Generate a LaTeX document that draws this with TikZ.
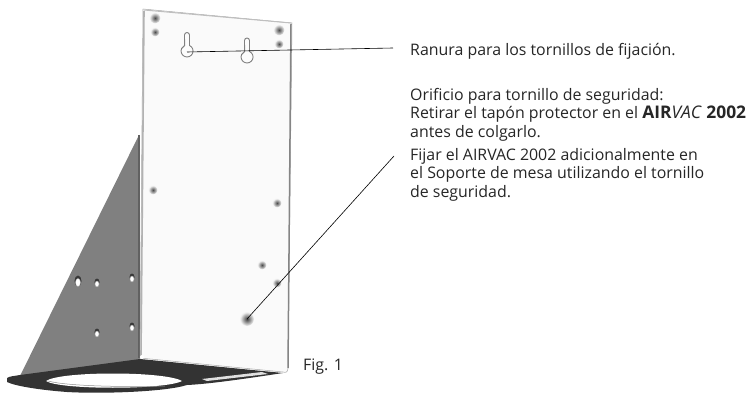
\documentclass[tikz,border=0pt]{standalone}
\usepackage{fontspec}
\usetikzlibrary{shapes.geometric}
\setmainfont{Open Sans}
\begin{document}
\begin{tikzpicture}[x=1pt,y=-1pt,
  lbl/.style={anchor=base west,inner sep=0pt,font=\fontsize{15.9}{18}\selectfont,text=black!85},
  holeP/.style={circle,inner sep=0pt,minimum size=9pt,shading=radial,inner color=black!70,outer color=black!3},
  holeG/.style={ellipse,inner sep=0pt,minimum width=4pt,minimum height=6pt,fill=white,draw=black!35,line width=.4pt},
  rim/.style={ellipse,inner sep=0pt,minimum width=5pt,minimum height=7pt,fill=black!78},
  leader/.style={draw=black,line width=.6pt},
  key/.style={draw=black!50,line width=.9pt,fill=black!1}]
\useasboundingbox (0,0) rectangle (753,393);
% gusset
\fill[black!50] (139,135) -- (20,376) -- (140,360) -- cycle;
\draw[black!62,line width=1.5pt] (139,135) -- (139,358);
% base
\fill[black!80] (7,378) .. controls (10,376) and (15,376) .. (20,375) -- (140,359) -- (283,373)
  .. controls (250,378) and (210,384) .. (187,385) .. controls (165,392) and (100,394) .. (67,392)
  .. controls (40,390) and (15,386) .. (7,382) -- cycle;
\fill[white] (46,381) .. controls (60,371) and (165,371) .. (182,381) .. controls (165,390) and (60,390) .. (46,381) -- cycle;
\draw[black!45,line width=.5pt] (48,381) .. controls (70,387) and (140,387) .. (165,386);
\fill[black!12] (202,379) -- (262,372) -- (268,374) -- (207,381) -- cycle;
% plate
\draw[black!35,fill=black!2,line width=.5pt] (143,9) -- (292,23) -- (288,368) .. controls (288,372) and (286,373) .. (283,372) -- (140,358) -- cycle;
\draw[black!30,line width=1.6pt] (144,11) -- (141,356);
\draw[black!48,line width=1.5pt] (291,24) -- (288,368);
\draw[black!25,line width=1pt] (144,10) -- (291,23);
\fill[white] (142,357) circle (2);
% plate holes
\node[holeP,minimum size=11pt] (h1) at (155,18) {};
\node[holeP] (h2) at (155,32) {};
\node[holeP,minimum size=11pt] (h3) at (279,30) {};
\node[holeP] (h4) at (279,44) {};
\node[holeP] (h5) at (153,190) {};
\node[holeP] (h6) at (277,203) {};
\node[holeP] (h7) at (262,265) {};
\node[holeP] (h8) at (277,283) {};
\node[holeP,minimum size=14pt,inner color=black!75] (safety) at (247,319) {};
% gusset holes
\node[rim,minimum width=7pt,minimum height=11pt] at (78,281) {};
\node[holeG,minimum width=5pt,minimum height=8pt] (g1) at (78,282.5) {};
\node[rim] at (97,282) {};
\node[holeG] (g2) at (97,284) {};
\node[rim] at (132,277) {};
\node[holeG] (g3) at (132,279) {};
\node[rim] at (97,332) {};
\node[holeG] (g4) at (97,334) {};
\node[rim] at (132,326) {};
\node[holeG] (g5) at (132,328) {};
% keyholes
\draw[key] (184.5,35) arc[start angle=180,end angle=360,radius=2.5] -- (189.5,45.5) arc[start angle=-66,end angle=246,radius=6] -- cycle;
\draw[key] (244.5,40.5) arc[start angle=180,end angle=360,radius=2.5] -- (249.5,51.5) arc[start angle=-66,end angle=246,radius=6] -- cycle;
\coordinate (slot) at (187,52);
\coordinate (e1) at (393,48);
\coordinate (e2) at (394,156);
\draw[leader] (slot) -- (e1);
\draw[leader] (safety.center) -- (e2);
% text
\node[lbl] (t1) at (410,56) {Ranura para los tornillos de fijación.};
\node[lbl] (t2) at (410,101) {Orificio para tornillo de seguridad:};
\node[lbl] (t3) at (410,119) {Retirar el tapón protector en el {\fontsize{17.4}{18}\selectfont\textbf{AIR}\textit{VAC} \textbf{2002}}};
\node[lbl] (t4) at (410,138) {antes de colgarlo.};
\node[lbl] (t5) at (410,161) {Fijar el AIRVAC 2002 adicionalmente en};
\node[lbl] (t6) at (410,179) {el Soporte de mesa utilizando el tornillo};
\node[lbl] (t7) at (410,198) {de seguridad.};
\node[lbl] (fig) at (303,370) {Fig. 1};
\end{tikzpicture}
\end{document}
